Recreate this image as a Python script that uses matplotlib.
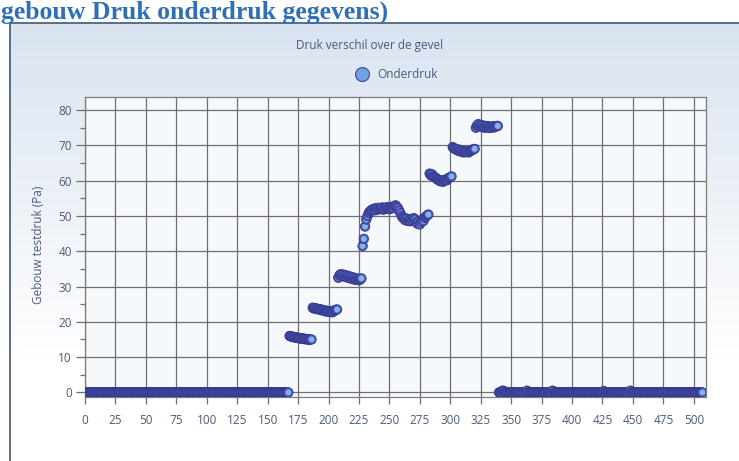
import numpy as np
import matplotlib.pyplot as plt
from matplotlib.lines import Line2D

# --- Data (pressure per sample) ---
ZERO_START = [0.0] * 168          # samples 0 - 167
STEP_15 = [16.0, 15.9, 15.7, 15.8, 15.6, 15.5, 15.6, 15.4, 15.3, 15.4,
           15.2, 15.3, 15.1, 15.2, 15.0, 15.1, 14.9, 15.0, 15.0]
STEP_23 = [24.0, 23.8, 23.9, 23.6, 23.7, 23.5, 23.6, 23.3, 23.4, 23.2,
           23.0, 23.2, 22.9, 23.1, 22.8, 23.0, 22.7, 22.9, 23.2, 23.4, 23.5]
STEP_32 = [32.5, 33.2, 33.5, 33.0, 33.4, 32.8, 33.2, 32.6, 33.0, 32.4,
           32.8, 32.2, 32.6, 32.0, 32.4, 31.9, 32.2, 31.8, 32.0, 32.3]
RISE_50 = [41.5, 43.5, 47.0, 49.0, 50.0, 50.8, 51.3, 51.6]
STEP_52 = [51.8, 52.0, 51.6, 52.2, 51.8, 52.3, 51.9, 52.1, 52.4, 51.8,
           52.2, 52.0, 52.5, 52.1, 51.9, 52.3, 52.6, 52.2, 52.8, 53.0,
           52.6, 52.2, 51.5, 50.8, 50.0, 49.5]
STEP_49 = [49.2, 48.8, 49.3, 48.6, 49.0, 48.5, 49.1, 48.7, 49.4, 49.0,
           48.2, 47.8, 48.5, 47.6, 48.3, 49.0, 48.6, 49.5, 49.8, 50.2, 50.4]
STEP_61 = [62.0, 61.5, 61.8, 61.2, 61.0, 60.8, 60.5, 60.2, 60.0, 59.8,
           60.1, 59.7, 60.0, 60.3, 60.1, 60.5, 60.8, 61.0, 61.2]
STEP_69 = [69.5, 69.2, 69.0, 68.7, 68.9, 68.4, 68.6, 68.2, 68.5, 68.0,
           68.3, 68.1, 68.4, 68.0, 68.3, 68.5, 68.7, 68.9, 69.0]
STEP_75 = [75.0, 75.6, 76.0, 75.4, 75.8, 75.2, 75.6, 75.0, 75.5, 75.1,
           75.4, 74.9, 75.3, 75.0, 75.4, 75.1, 75.3, 75.5, 75.5]
ZERO_END = [0.0] * 168            # samples 340 - 507
ZERO_END_BUMPS = {3: 0.5, 4: 0.4, 23: 0.5, 44: 0.5, 86: 0.4, 108: 0.5}

X_TICKS = list(range(0, 501, 25))
Y_TICKS = list(range(0, 81, 10))

HEADING = "gebouw Druk onderdruk gegevens)"
TITLE = "Druk verschil over de gevel"
SERIES = "Onderdruk"
Y_LABEL = "Gebouw testdruk (Pa)"

# --- Build series ---
zero_end = list(ZERO_END)
for i, v in ZERO_END_BUMPS.items():
    zero_end[i] = v
pressure = np.array(ZERO_START + STEP_15 + STEP_23 + STEP_32 + RISE_50 + STEP_52
                    + STEP_49 + STEP_61 + STEP_69 + STEP_75 + zero_end)
sample = np.arange(len(pressure))

TEXT_COL = "#4A5A78"
W, H = 739, 461

fig = plt.figure(figsize=(W / 100, H / 100), dpi=100)
fig.patch.set_facecolor("white")

# chart panel with vertical gradient
panel = fig.add_axes([10 / W, 0, 1 - 10 / W, 1 - 23 / H], zorder=0)
grad = np.linspace(0, 1, 256).reshape(-1, 1)
top = np.array([0.85, 0.89, 0.94])
bot = np.array([1.0, 1.0, 1.0])
img = top + (bot - top) * np.clip(grad * 1.3, 0, 1)
panel.imshow(img[:, None, :].repeat(2, axis=1), aspect="auto", extent=[0, 1, 0, 1])
panel.set_xticks([])
panel.set_yticks([])
for side in ("right", "bottom"):
    panel.spines[side].set_visible(False)
for side in ("left", "top"):
    panel.spines[side].set_color("#4C6384")
    panel.spines[side].set_linewidth(1.3)

ax = fig.add_axes([85 / W, 1 - 397 / H, (706 - 85) / W, (397 - 97) / H], zorder=1)
ax.set_facecolor("#F6F9FC")

# spheres: blue base + light core, drawn point by point in order
n = len(sample)
offs = np.repeat(np.column_stack([sample, pressure]), 2, axis=0)
sizes = np.tile([46, 18], n)
faces = np.tile([[0.31, 0.34, 0.71, 1.0], [0.50, 0.71, 0.92, 1.0]], (n, 1))
edges = np.tile([[0.20, 0.22, 0.55, 1.0], [0.50, 0.71, 0.92, 0.0]], (n, 1))
lws = np.tile([0.6, 0.0], n)
ax.scatter(offs[:, 0], offs[:, 1], s=sizes, c=faces, edgecolors=edges,
           linewidths=lws, zorder=3, clip_on=True)

ax.set_xlim(0, 510)
ax.set_ylim(-1.3, 83.7)
ax.set_xticks(X_TICKS)
ax.set_yticks(Y_TICKS)
ax.set_yticks([5, 15, 25, 35, 45, 55, 65, 75], minor=True)
ax.grid(True, which="major", color="#6F6F6F", linewidth=0.9)
ax.set_axisbelow(True)
for s in ax.spines.values():
    s.set_color("#7A7A7A")
    s.set_linewidth(0.9)
ax.tick_params(axis="x", length=5, width=0.9, color="#6F6F6F", pad=7,
               labelsize=8.5, labelcolor=TEXT_COL)
ax.tick_params(axis="y", which="major", length=6.5, width=0.9, color="#6F6F6F",
               pad=3, labelsize=8.5, labelcolor=TEXT_COL)
ax.tick_params(axis="y", which="minor", length=3.5, width=0.9, color="#6F6F6F")
for lab in ax.get_xticklabels() + ax.get_yticklabels():
    lab.set_family("Open Sans")

fig.text(38 / W, 1 - 245 / H, Y_LABEL, rotation=90, ha="center", va="center",
         fontsize=8.5, color=TEXT_COL, family="Open Sans")
fig.text(370 / W, 1 - 45 / H, TITLE, ha="center", va="center",
         fontsize=8.5, color=TEXT_COL, family="Open Sans")

handle = Line2D([], [], linestyle="none", marker="o", markersize=10,
                markerfacecolor="#6FA3E0", markeredgecolor="#3A4AA0",
                markeredgewidth=0.8)
ax.legend([handle], [SERIES], loc="center", bbox_to_anchor=(394 / W, 1 - 75 / H),
          bbox_transform=fig.transFigure, frameon=False, handletextpad=0.3,
          prop={"family": "Open Sans", "size": 8.5}, labelcolor=TEXT_COL)

fig.text(1 / W, 1 - 19 / H, HEADING, ha="left", va="baseline",
         fontsize=18.5, fontweight="bold", color="#2E6FB5", family="Liberation Serif")

fig.savefig("out.png", dpi=100)
